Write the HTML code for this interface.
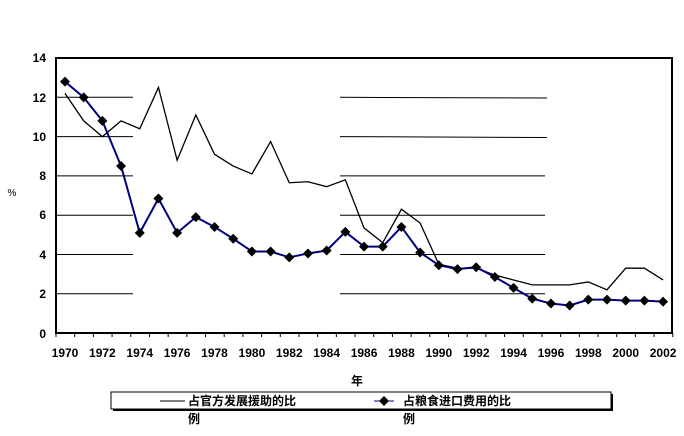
<!DOCTYPE html>
<html><head><meta charset="utf-8"><style>
body{margin:0;background:#fff;}
svg{display:block;font-family:"Liberation Sans","Noto Sans CJK SC",sans-serif;font-weight:bold;}
</style></head><body>
<svg width="684" height="436" viewBox="0 0 684 436" xmlns="http://www.w3.org/2000/svg">
<g stroke="#000" stroke-width="1">
<line x1="57" y1="97.3" x2="133" y2="97.3"/><line x1="57" y1="136.6" x2="133" y2="136.6"/><line x1="57" y1="175.9" x2="133" y2="175.9"/><line x1="57" y1="215.2" x2="133" y2="215.2"/><line x1="57" y1="254.5" x2="133" y2="254.5"/><line x1="57" y1="293.8" x2="133" y2="293.8"/>
<line x1="340" y1="97.3" x2="547" y2="98"/><line x1="340" y1="136.6" x2="547" y2="137.5"/><line x1="340" y1="175.9" x2="545" y2="175.9"/><line x1="340" y1="215.2" x2="545" y2="215.2"/><line x1="340" y1="254.5" x2="545" y2="254.5"/><line x1="340" y1="293.8" x2="545" y2="293.8"/>
</g>
<rect x="56" y="58" width="616" height="275" fill="none" stroke="#000" stroke-width="2"/>
<g font-size="12" text-anchor="end">
<text x="46" y="62">14</text><text x="46" y="102">12</text><text x="46" y="141">10</text><text x="46" y="180">8</text><text x="46" y="219">6</text><text x="46" y="259">4</text><text x="46" y="298">2</text><text x="46" y="338">0</text>
</g>
<text x="12" y="196" font-size="10" font-weight="normal" text-anchor="middle">%</text>
<g id="ticks" stroke="#000"></g>
<g font-size="12" text-anchor="middle" id="xl"></g>
<polyline id="oda" fill="none" stroke="#000" stroke-width="1.3"/>
<polyline id="food" fill="none" stroke="#000080" stroke-width="2"/>
<g id="dia" fill="#000"></g>
<text x="357" y="385" font-size="12" text-anchor="middle">年</text>
<rect x="113" y="394" width="500" height="17" fill="#000"/>
<rect x="111" y="392" width="500" height="17" fill="#fff" stroke="#000" stroke-width="1"/>
<line x1="160" y1="401" x2="185" y2="401" stroke="#000"/>
<text x="188" y="405" font-size="12">占官方发展援助的比</text>
<text x="188" y="423" font-size="12">例</text>
<line x1="374" y1="401" x2="394" y2="401" stroke="#000080"/>
<path d="M384 396 L389 401 L384 406 L379 401Z"/>
<text x="403" y="405" font-size="12">占粮食进口费用的比</text>
<text x="403" y="423" font-size="12">例</text>
</svg>
<script>
var food=[12.8,12.0,10.8,8.5,5.1,6.85,5.1,5.9,5.4,4.8,4.15,4.15,3.85,4.05,4.2,5.15,4.4,4.4,5.4,4.1,3.45,3.25,3.35,2.85,2.3,1.75,1.5,1.4,1.7,1.7,1.65,1.65,1.6];
var oda=[12.2,10.8,10.0,10.8,10.4,12.5,8.8,11.1,9.1,8.5,8.1,9.75,7.65,7.7,7.45,7.8,5.35,4.6,6.3,5.6,3.5,3.3,3.3,2.95,2.7,2.45,2.45,2.45,2.6,2.2,3.3,3.3,2.7];
function X(i){return 65+i*18.69}function Y(v){return 333-v*19.64}
var ns="http://www.w3.org/2000/svg";
document.getElementById('food').setAttribute('points',food.map((v,i)=>X(i)+','+Y(v)).join(' '));
document.getElementById('oda').setAttribute('points',oda.map((v,i)=>X(i)+','+Y(v)).join(' '));
var d=document.getElementById('dia');
food.forEach((v,i)=>{var p=document.createElementNS(ns,'path');var x=X(i),y=Y(v);p.setAttribute('d','M'+x+' '+(y-5)+'L'+(x+5)+' '+y+'L'+x+' '+(y+5)+'L'+(x-5)+' '+y+'Z');d.appendChild(p);});
var t=document.getElementById('ticks'),xl=document.getElementById('xl');
for(var i=0;i<=33;i++){var l=document.createElementNS(ns,'line');var x=56+i*18.69;l.setAttribute('x1',x);l.setAttribute('x2',x);l.setAttribute('y1',333);l.setAttribute('y2',337);t.appendChild(l);}
for(var i=0;i<=32;i+=2){var tx=document.createElementNS(ns,'text');tx.setAttribute('x',X(i));tx.setAttribute('y',357);tx.textContent=1970+i;xl.appendChild(tx);}
</script>
</body></html>
